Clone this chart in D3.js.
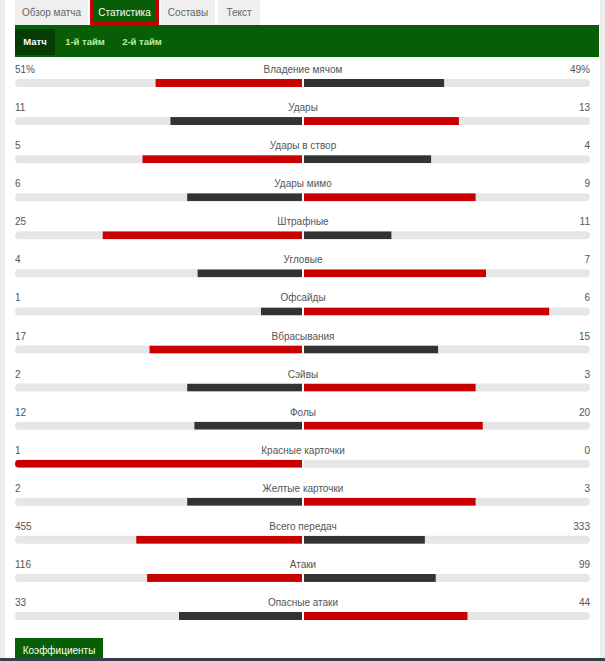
<!DOCTYPE html>
<html><head><meta charset="utf-8">
<script src="https://cdn.jsdelivr.net/npm/d3@7"></script>
<style>
html,body{margin:0;padding:0;background:#fff;overflow:hidden;}
svg{display:block;font-family:"Liberation Sans",Arial,sans-serif;}
</style></head>
<body>
<svg id="c" width="605" height="661"></svg>
<script>
const tabs = ["Обзор матча","Статистика","Составы","Текст"];
const subTabs = ["Матч","1-й тайм","2-й тайм"];
const statNames = ["Владение мячом","Удары","Удары в створ","Удары мимо","Штрафные","Угловые","Офсайды","Вбрасывания","Сэйвы","Фолы","Красные карточки","Желтые карточки","Всего передач","Атаки","Опасные атаки"];
const homeValues = [51,11,5,6,25,4,1,17,2,12,1,2,455,116,33];
const awayValues = [49,13,4,9,11,7,6,15,3,20,0,3,333,99,44];
const valueSuffix = ["%","","","","","","","","","","","","","",""];
const buttonLabel = "Коэффициенты";

const svg = d3.select("#c");
const W = 605, H = 661;

// side strips
svg.append("rect").attr("x",0).attr("y",0).attr("width",5).attr("height",H).attr("fill","#ececec");
svg.append("rect").attr("x",600).attr("y",0).attr("width",5).attr("height",H).attr("fill","#ececec");

// tabs
const tabX = [15,90,161,218], tabW = [73,69,54,42];
tabs.forEach((t,i)=>{
  const g = svg.append("g");
  if(i===1){
    g.append("rect").attr("x",tabX[i]).attr("y",0).attr("width",tabW[i]).attr("height",25).attr("fill","#c80000");
    g.append("rect").attr("x",tabX[i]+3).attr("y",0).attr("width",tabW[i]-6).attr("height",22).attr("fill","#075e07");
  } else {
    g.append("rect").attr("x",tabX[i]).attr("y",0).attr("width",tabW[i]).attr("height",25).attr("fill","#efefef");
  }
  g.append("text").attr("x",tabX[i]+tabW[i]/2).attr("y",16).attr("text-anchor","middle")
    .attr("font-size",10).attr("fill", i===1?"#fff":"#666").text(t);
});

// green bar
svg.append("rect").attr("x",15).attr("y",25).attr("width",584).attr("height",32).attr("fill","#075e07");
svg.append("rect").attr("x",15).attr("y",29).attr("width",40).attr("height",26).attr("fill","#053b05");
const subX = [35,85,142];
subTabs.forEach((t,i)=>{
  svg.append("text").attr("x",subX[i]).attr("y",45).attr("text-anchor","middle")
    .attr("font-size",9.5).attr("font-weight","bold").attr("fill", i===0?"#fff":"#bdeea3").text(t);
});

// stats
const left0 = 15, mid = 302, right0 = 304, right1 = 590;
const yRow = d3.scaleLinear().domain([0,14]).range([79, 612]);
const xL = d3.scaleLinear().domain([0,1]).range([mid, left0]);
const xR = d3.scaleLinear().domain([0,1]).range([right0, right1]);
const fmt = d3.format("d");

const defs = svg.append("defs");
statNames.forEach((name,i)=>{
  const y = yRow(i);
  const h = homeValues[i], a = awayValues[i];
  const tot = h + a;
  const hs = tot ? h/tot : 0, as = tot ? a/tot : 0;
  const hColor = h>a ? "#c80000" : "#333";
  const aColor = a>h ? "#c80000" : "#333";
  const g = svg.append("g");
  const cid = "clip"+i;
  defs.append("clipPath").attr("id",cid).append("rect")
    .attr("x",left0).attr("y",y).attr("width",right1-left0).attr("height",8).attr("rx",4);
  g.append("rect").attr("x",left0).attr("y",y).attr("width",right1-left0).attr("height",8).attr("rx",4).attr("fill","#e6e6e6");
  const bars = g.append("g").attr("clip-path",`url(#${cid})`);
  bars.append("rect").attr("x",xL(hs)).attr("y",y).attr("width",mid-xL(hs)).attr("height",8).attr("fill",hColor);
  bars.append("rect").attr("x",right0).attr("y",y).attr("width",xR(as)-right0).attr("height",8).attr("fill",aColor);
  bars.append("rect").attr("x",mid).attr("y",y).attr("width",right0-mid).attr("height",8).attr("fill","#fff");
  const ty = y - 6;
  g.append("text").attr("x",left0).attr("y",ty).attr("font-size",10).attr("fill","#555").text(fmt(h)+valueSuffix[i]);
  g.append("text").attr("x",right1).attr("y",ty).attr("text-anchor","end").attr("font-size",10).attr("fill","#555").text(fmt(a)+valueSuffix[i]);
  g.append("text").attr("x",303).attr("y",ty).attr("text-anchor","middle").attr("font-size",10).attr("fill","#555").text(name);
});

// button
svg.append("rect").attr("x",15).attr("y",638).attr("width",88).attr("height",22).attr("fill","#075e07");
svg.append("text").attr("x",59).attr("y",654).attr("text-anchor","middle").attr("font-size",10).attr("fill","#fff").text(buttonLabel);
// bottom line
svg.append("rect").attr("x",0).attr("y",658).attr("width",W).attr("height",3).attr("fill","#34404b");
</script>
</body></html>
